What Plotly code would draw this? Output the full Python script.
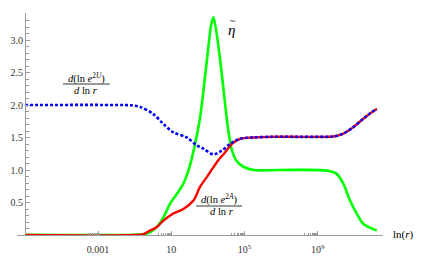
import plotly.graph_objects as go

# log10(r) sample positions and values
logr_U = [-7, -2, -1.2, -0.7, 0.02, 0.57, 1.11, 1.85, 2.39, 2.75, 3.30, 3.76, 4.21, 4.76, 5.49,
          6.4, 8.0, 9.5, 9.84, 10.4, 10.95, 11.5, 11.86, 12.23]
dU = [2.0, 2.0, 1.995, 1.97, 1.86, 1.71, 1.58, 1.50, 1.38, 1.33, 1.24, 1.30, 1.40, 1.48, 1.50,
      1.51, 1.51, 1.51, 1.515, 1.56, 1.66, 1.79, 1.87, 1.94]

logr_A = [-7, -1, -0.5, -0.16, 0.2, 0.57, 1.11, 1.66, 2.21, 2.57, 2.94, 3.57, 3.94, 4.3, 4.76,
          5.49, 6.4, 8.0, 9.5, 9.84, 10.4, 10.95, 11.5, 11.86, 12.23]
dA = [0.0, 0.0, 0.015, 0.07, 0.12, 0.22, 0.33, 0.40, 0.53, 0.74, 0.89, 1.15, 1.27, 1.40, 1.48,
      1.50, 1.51, 1.51, 1.51, 1.515, 1.56, 1.66, 1.79, 1.87, 1.94]

logr_eta = [-7, -1, -0.5, -0.16, 0.2, 0.57, 0.93, 1.3, 1.66, 2.03, 2.30, 2.57, 2.79, 3.03, 3.17,
            3.30, 3.48, 3.67, 3.85, 4.12, 4.32, 4.54, 4.94, 5.49, 6.95, 9.5, 10.04, 10.4, 10.77,
            11.13, 11.5, 12.23]
eta = [0.005, 0.005, 0.015, 0.04, 0.12, 0.27, 0.48, 0.63, 0.79, 1.08, 1.40, 1.80, 2.30, 2.90, 3.22,
       3.35, 3.10, 2.70, 2.25, 1.60, 1.30, 1.15, 1.05, 1.00, 1.00, 0.99, 0.94, 0.79, 0.53,
       0.33, 0.17, 0.07]

x_tickvals = [1e-3, 1e1, 1e5, 1e9]
x_ticktext = ["0.001", "10", "10<sup>5</sup>", "10<sup>9</sup>"]
y_tickvals = [0.5, 1.0, 1.5, 2.0, 2.5, 3.0]
y_ticktext = ["0.5", "1.0", "1.5", "2.0", "2.5", "3.0"]

to_r = lambda arr: [10 ** v for v in arr]

x_minor = [m * t / 10 for t in x_tickvals for m in range(2, 10)]
y_minor = [round(0.1 * k, 1) for k in range(1, 35) if k % 5 != 0]

W, H = 422, 269
ML, MR, MT, MB = 17, 39, 13, 34
pw = W - ML - MR
ph = H - MT - MB

def px(xp):
    return (xp - ML) / pw

def py(yp):
    return (H - MB - yp) / ph

fig = go.Figure()
fig.add_trace(go.Scatter(x=to_r(logr_eta), y=eta, mode="lines",
                         line=dict(color="rgb(0,255,0)", width=2.6, shape="spline", smoothing=0.9),
                         hoverinfo="skip"))
fig.add_trace(go.Scatter(x=to_r(logr_A), y=dA, mode="lines",
                         line=dict(color="rgb(255,0,0)", width=2.4, shape="spline", smoothing=0.9),
                         hoverinfo="skip"))
fig.add_trace(go.Scatter(x=to_r(logr_U), y=dU, mode="lines",
                         line=dict(color="rgb(0,0,255)", width=2.6, dash="3px,2px",
                                   shape="spline", smoothing=0.9),
                         hoverinfo="skip"))

serif = "Liberation Serif, Times New Roman, DejaVu Serif, serif"
axis_col = "#999999"
fig.update_layout(
    width=W, height=H,
    margin=dict(l=ML, r=MR, t=MT, b=MB, autoexpand=False),
    paper_bgcolor="white", plot_bgcolor="white",
    showlegend=False,
    font=dict(family=serif, size=10, color="#333333"),
    xaxis=dict(type="log", range=[-7.43, 12.57], showgrid=False, zeroline=False,
               automargin=False,
               showline=True, linecolor=axis_col, linewidth=1,
               tickvals=x_tickvals, ticktext=x_ticktext,
               ticks="inside", ticklen=4, tickcolor=axis_col, tickwidth=1,
               ticklabelstandoff=5,
               tickfont=dict(family=serif, size=10, color="#333333"),
               minor=dict(tickvals=x_minor, ticks="inside", ticklen=2,
                          tickcolor=axis_col, tickwidth=1, showgrid=False)),
    yaxis=dict(range=[0, ph / 65.0], showgrid=False, zeroline=False,
               automargin=False,
               anchor="free", position=px(25),
               showline=True, linecolor=axis_col, linewidth=1,
               tickvals=y_tickvals, ticktext=y_ticktext,
               ticks="inside", ticklen=4, tickcolor=axis_col, tickwidth=1,
               tickfont=dict(family=serif, size=10, color="#333333"),
               minor=dict(tickvals=y_minor, ticks="inside", ticklen=2.5,
                          tickcolor=axis_col, tickwidth=1, showgrid=False)),
)

lab = dict(family=serif, size=10.5, color="black")
ann = [
    dict(x=px(86), y=py(78), text="<i>d</i>(ln <i>e</i><sup>2<i>U</i></sup>)", font=lab),
    dict(x=px(86), y=py(90), text="<i>d</i> ln <i>r</i>", font=lab),
    dict(x=px(219), y=py(199), text="<i>d</i>(ln <i>e</i><sup>2<i>A</i></sup>)", font=lab),
    dict(x=px(222), y=py(211.5), text="<i>d</i> ln <i>r</i>", font=lab),
    dict(x=px(231.5), y=py(30), text="<i>η</i>", font=dict(family=serif, size=15, color="black")),
    dict(x=px(232.5), y=py(21), text="~", font=dict(family=serif, size=10, color="black")),
    dict(x=px(403), y=py(234), text="ln(<i>r</i>)", font=dict(family=serif, size=11, color="black")),
]
for a in ann:
    fig.add_annotation(xref="paper", yref="paper", showarrow=False,
                       xanchor="center", yanchor="middle", **a)

for x0, x1, yb in [(63, 110, 84), (196, 242, 206)]:
    fig.add_shape(type="line", xref="paper", yref="paper",
                  x0=px(x0), x1=px(x1), y0=py(yb), y1=py(yb),
                  line=dict(color="black", width=0.8))

fig.write_html("out.html", config={"displayModeBar": False, "staticPlot": True},
               post_script="document.body.style.margin='0px';document.body.style.padding='0px';")
